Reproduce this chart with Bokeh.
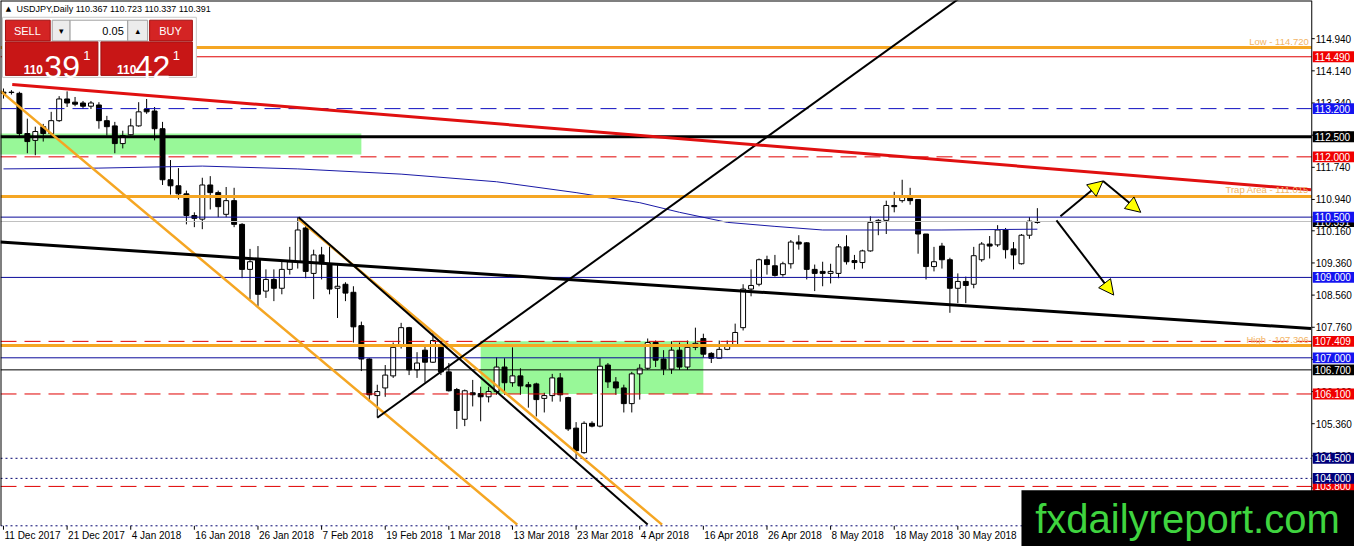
from bokeh.plotting import figure
from bokeh.models import ColumnDataSource, Arrow, NormalHead, Range1d
from bokeh.core.properties import value
from bokeh.embed import file_html
from bokeh.resources import INLINE

# USDJPY daily candles
opens = [113.61, 113.60, 113.58, 112.58, 112.41, 112.75, 112.58, 112.90, 113.44, 113.36,
         113.34, 113.26, 113.29, 112.90, 112.77, 112.33, 112.55, 112.77, 113.19, 113.14,
         112.70, 111.43, 111.28, 111.08, 110.54, 110.45, 111.30, 111.11, 110.57, 110.91,
         110.32, 109.20, 109.44, 108.66, 108.95, 108.73, 109.20, 109.39, 110.23, 109.10,
         109.56, 109.34, 108.73, 108.83, 108.63, 107.80, 106.97, 106.06, 106.25, 106.55,
         107.31, 107.75, 106.70, 107.19, 106.89, 107.26, 106.65, 106.21, 105.47, 106.13,
         106.11, 106.03, 106.16, 106.77, 106.38, 106.55, 106.33, 106.35, 105.99, 106.06,
         106.50, 106.01, 105.25, 104.64, 105.37, 105.30, 106.82, 106.40, 106.25, 105.86,
         106.60, 106.74, 107.38, 106.97, 106.72, 107.19, 106.77, 107.26, 107.48, 107.11,
         106.99, 107.21, 107.33, 107.75, 108.71, 108.83, 109.44, 109.29, 109.07, 109.34,
         109.88, 109.86, 109.20, 109.15, 109.10, 109.10, 109.76, 109.42, 109.37, 109.66,
         110.37, 110.42, 110.79, 110.91, 111.03, 110.94, 110.08, 109.27, 109.78, 109.44,
         108.73, 108.90, 108.83, 109.44, 109.83, 109.81, 110.18, 109.71, 109.34, 110.05,
         110.367]
highs = [113.70, 113.66, 113.62, 112.95, 112.75, 112.82, 113.12, 113.51, 113.63, 113.49,
         113.39, 113.39, 113.36, 113.02, 112.87, 112.65, 112.95, 113.36, 113.44, 113.24,
         112.87, 111.92, 111.72, 111.16, 110.62, 111.48, 111.52, 111.16, 111.25, 111.23,
         110.35, 109.71, 109.78, 109.20, 109.20, 109.39, 109.76, 110.50, 110.30, 109.69,
         109.76, 109.81, 109.34, 108.88, 108.78, 107.90, 106.99, 106.33, 106.82, 107.38,
         107.87, 107.77, 107.14, 107.31, 107.63, 107.36, 106.87, 106.25, 106.21, 106.45,
         106.28, 106.28, 107.01, 106.99, 107.26, 106.74, 106.40, 106.38, 106.13, 106.60,
         106.62, 106.03, 105.40, 105.42, 105.42, 106.99, 106.87, 106.52, 106.33, 106.65,
         106.84, 107.48, 107.43, 107.19, 107.41, 107.38, 107.43, 107.75, 107.60, 107.14,
         107.43, 107.43, 107.85, 108.83, 109.20, 109.47, 109.54, 109.56, 109.39, 109.93,
         110.05, 109.88, 109.32, 109.39, 109.34, 109.83, 110.05, 109.56, 109.69, 110.52,
         110.45, 110.91, 111.13, 111.43, 111.23, 110.94, 110.08, 109.76, 109.86, 109.49,
         109.10, 109.02, 109.76, 109.88, 110.03, 110.30, 110.23, 109.88, 110.08, 110.50,
         110.723]
lows = [113.45, 113.55, 112.50, 112.09, 112.04, 112.38, 112.50, 112.87, 113.24, 113.26,
        113.19, 113.19, 112.70, 112.53, 112.09, 112.21, 112.53, 112.75, 113.07, 112.41,
        111.30, 111.06, 110.94, 110.32, 110.25, 110.20, 110.69, 110.50, 110.50, 110.25,
        108.98, 108.46, 108.29, 108.49, 108.41, 108.58, 109.07, 109.22, 108.98, 108.46,
        108.95, 108.58, 107.99, 108.41, 107.38, 106.67, 105.91, 105.52, 106.03, 106.50,
        107.23, 106.57, 106.50, 106.38, 106.87, 106.57, 106.16, 105.23, 105.30, 105.79,
        105.42, 105.89, 106.08, 106.08, 106.28, 106.08, 105.76, 105.54, 105.64, 105.91,
        105.91, 105.18, 104.49, 104.61, 105.27, 105.27, 106.25, 106.08, 105.64, 105.64,
        105.96, 106.70, 106.77, 106.57, 106.60, 106.70, 106.70, 107.19, 107.01, 106.87,
        106.99, 107.19, 107.28, 107.68, 108.53, 108.78, 109.07, 109.02, 109.02, 109.22,
        109.69, 108.95, 108.66, 108.78, 108.85, 108.98, 109.32, 109.20, 109.22, 109.64,
        110.05, 110.08, 110.62, 110.86, 110.81, 109.59, 108.95, 109.15, 109.22, 108.12,
        108.36, 108.36, 108.73, 109.39, 109.47, 109.76, 109.47, 109.20, 109.32, 109.96,
        110.337]
closes = [113.58, 113.61, 112.58, 112.38, 112.63, 112.58, 112.90, 113.44, 113.34, 113.31,
          113.26, 113.34, 112.90, 112.75, 112.33, 112.53, 112.77, 113.12, 113.12, 112.70,
          111.43, 111.28, 111.08, 110.54, 110.47, 111.30, 111.11, 110.76, 110.91, 110.32,
          109.20, 109.39, 108.58, 108.95, 108.73, 109.20, 109.39, 110.18, 109.15, 109.56,
          109.34, 108.71, 108.78, 108.61, 107.77, 106.97, 106.08, 106.16, 106.57, 107.26,
          107.75, 106.70, 106.87, 106.89, 107.43, 106.65, 106.18, 105.69, 106.18, 106.08,
          106.03, 106.16, 106.77, 106.38, 106.55, 106.30, 106.28, 105.96, 106.06, 106.50,
          106.08, 105.23, 104.69, 105.37, 105.30, 106.79, 106.40, 106.25, 105.86, 106.60,
          106.74, 107.38, 106.94, 106.72, 107.19, 106.77, 107.26, 107.36, 107.09, 106.99,
          107.21, 107.33, 107.63, 108.71, 108.80, 109.44, 109.32, 109.05, 109.34, 109.88,
          109.83, 109.20, 109.10, 109.10, 109.15, 109.76, 109.39, 109.37, 109.66, 110.37,
          110.42, 110.79, 110.76, 111.03, 110.91, 110.08, 109.27, 109.39, 109.44, 108.73,
          108.90, 108.80, 109.54, 109.83, 109.78, 110.18, 109.69, 109.56, 110.05, 110.40,
          110.391]

date_ticks = list(range(0, 121, 8))
date_labels = ["11 Dec 2017", "21 Dec 2017", "4 Jan 2018", "16 Jan 2018", "26 Jan 2018",
               "7 Feb 2018", "19 Feb 2018", "1 Mar 2018", "13 Mar 2018", "23 Mar 2018",
               "4 Apr 2018", "16 Apr 2018", "26 Apr 2018", "8 May 2018", "18 May 2018",
               "30 May 2018"]
price_ticks = [114.94, 114.14, 113.34, 112.54, 111.74, 110.94, 110.16, 109.36,
               108.56, 107.76, 106.96, 106.16, 105.36, 104.56, 103.76]

# moving average (blue curve)
ma_bar = [0, 12, 25, 37, 50, 62, 72, 80, 85, 91, 97, 103, 118, 130]
ma_val = [111.70, 111.72, 111.77, 111.70, 111.57, 111.38, 111.11, 110.86, 110.62,
          110.37, 110.27, 110.18, 110.18, 110.20]

# horizontal levels
low_level = 114.720
trap_level = 111.015
high_level = 107.306
red_solid = [114.490]
red_dashed = [112.000, 107.409, 106.100, 103.800]
blue_dashed = [113.200]
navy_solid = [110.500, 109.000, 107.000]
black_thick = [112.500]
black_thin = [106.700]
navy_dotted = [104.500, 104.000]
bid = 110.391

tag_prices = [114.490, 113.200, 112.500, 112.000, 110.391, 110.500, 109.000, 107.409,
              107.000, 106.700, 106.100, 103.800, 104.500, 104.000]
tag_colors = ["#f00000", "#1414f0", "#000000", "#f00000", "#000000", "#1414f0", "#1414f0",
              "#f00000", "#1414f0", "#000000", "#f00000", "#f00000", "#00007a", "#00007a"]

# demand / supply zones
zone_left = [-1.0, 60.0]
zone_right = [45.0, 88.0]
zone_top = [112.58, 107.409]
zone_bottom = [112.06, 106.10]

# trend lines (bar index, price)
red_trend_x, red_trend_y = [1.1, 164.4], [113.80, 111.18]
black_trend_x, black_trend_y = [-0.4, 164.4], [109.88, 107.73]
rise_x, rise_y = [47.0, 125.0], [105.51, 116.63]
fall_x, fall_y = [37.1, 81.0], [110.50, 102.85]
orange_a_x, orange_a_y = [-0.4, 64.6], [113.64, 102.85]
orange_b_x, orange_b_y = [37.1, 82.8], [110.45, 102.85]

# scenario arrows
arrow_x0 = [132.9, 138.25, 132.4]
arrow_y0 = [110.52, 111.40, 110.42]
arrow_x1 = [138.25, 143.0, 139.6]
arrow_y1 = [111.40, 110.62, 108.56]

# chart area in bar / price units; the price scale sits right of X1, dates below Y0
X0, X1 = -0.375, 164.5
Y0, Y1 = 102.82, 115.89
FONT = "Liberation Sans"


def fx(px):
    # screen x of the original 1362x554 window -> bar units
    return X0 + px * (X1 - X0) / 1319


def fy(py):
    # screen y of the original window -> price units
    return Y1 - py * (Y1 - Y0) / 533


XR, YB = fx(1362), fy(554)

p = figure(width=1354, height=546, x_range=Range1d(X0, XR), y_range=Range1d(YB, Y1),
           output_backend="svg", toolbar_location=None, tools="",
           min_border_left=0, min_border_top=0, min_border_right=0, min_border_bottom=0,
           background_fill_color="white", border_fill_color="white")
p.axis.visible = False
p.grid.visible = False
p.outline_line_color = None

# zones
p.quad(left=zone_left, right=zone_right, top=zone_top, bottom=zone_bottom,
       fill_color="#98f898", line_color=None)

# candles
bars = list(range(len(opens)))
src = ColumnDataSource(dict(
    x=bars, high=highs, low=lows,
    top=[max(o, c) for o, c in zip(opens, closes)],
    bottom=[min(o, c) for o, c in zip(opens, closes)],
    fill=["white" if c >= o else "black" for o, c in zip(opens, closes)]))
p.segment("x", "high", "x", "low", source=src, line_color="black", line_width=1)
p.vbar(x="x", top="top", bottom="bottom", width=0.62, fill_color="fill",
       line_color="black", line_width=1, source=src)

# moving average
p.line(ma_bar, ma_val, line_color="#1a1aa6", line_width=1)


def level(ys, **kw):
    p.segment(x0=[X0] * len(ys), y0=ys, x1=[X1] * len(ys), y1=ys, **kw)


level([bid], line_color="#c0c0c0", line_width=1)
level([low_level, trap_level, high_level], line_color="#f5a623", line_width=3)
level(red_solid, line_color="#e00000", line_width=1)
level(red_dashed, line_color="#e00000", line_width=1, line_dash="16 8")
level(blue_dashed, line_color="#1010c0", line_width=1, line_dash="16 8")
level(navy_solid, line_color="#0a0a9a", line_width=1)
level(black_thick, line_color="black", line_width=3)
level(black_thin, line_color="black", line_width=1)
level(navy_dotted, line_color="#00006e", line_width=1, line_dash="2 3")
level([Y0], line_color="#00006e", line_width=1, line_dash="2 3")

# trend lines
p.line(orange_a_x, orange_a_y, line_color="#f5a623", line_width=2.5)
p.line(orange_b_x, orange_b_y, line_color="#f5a623", line_width=2.5)
p.line(fall_x, fall_y, line_color="black", line_width=2)
p.line(rise_x, rise_y, line_color="black", line_width=2)
p.line(black_trend_x, black_trend_y, line_color="black", line_width=3)
p.line(red_trend_x, red_trend_y, line_color="#e01010", line_width=3)

# orange level captions
cap_levels = [low_level, trap_level, high_level]
cap_names = ["Low", "Trap Area", "High"]
p.text(x=[X1] * 3, y=cap_levels, text=[f"{n} - {v:.3f}" for n, v in zip(cap_names, cap_levels)],
       x_offset=-3, y_offset=-1, text_align="right", text_baseline="bottom",
       text_color="#f2b566", text_font=value(FONT), text_font_size=value("9.5px"))

# frame borders (top, left)
p.segment(x0=[X0, X0], y0=[Y1, Y0], x1=[X1, X0], y1=[Y1, Y1], line_color="black", line_width=2)

# price scale
n = len(price_ticks)
p.segment(x0=[X1], y0=[Y0], x1=[X1], y1=[Y1], line_color="black", line_width=1)
p.segment(x0=[X1] * n, y0=price_ticks, x1=[fx(1322)] * n, y1=price_ticks, line_color="black")
p.text(x=[X1] * n, y=price_ticks, text=[f"{v:.3f}" for v in price_ticks], x_offset=4,
       text_align="left", text_baseline="middle", text_color="black",
       text_font=value(FONT), text_font_size=value("10px"))

# price tags, each box with its own text so later tags cover earlier ones
th = 5.5 * (Y1 - Y0) / 533
for price, col in zip(tag_prices, tag_colors):
    p.quad(left=[fx(1320)], right=[XR], top=[price + th], bottom=[price - th],
           fill_color=col, line_color=None)
    p.text(x=[fx(1320)], y=[price], text=[f"{price:.3f}"], x_offset=2,
           text_align="left", text_baseline="middle", text_color="white",
           text_font=value(FONT), text_font_size=value("10px"))

# date scale
m = len(date_ticks)
p.segment(x0=date_ticks, y0=[Y0] * m, x1=date_ticks, y1=[fy(537)] * m, line_color="black")
p.text(x=date_ticks, y=[Y0] * m, text=date_labels, x_offset=1, y_offset=4,
       text_align="left", text_baseline="top", text_color="black",
       text_font=value(FONT), text_font_size=value("10px"))

# arrows
p.add_layout(Arrow(end=NormalHead(size=15, fill_color="#ffff00", line_color="black",
                                  line_width=1),
                   x_start="x0", y_start="y0", x_end="x1", y_end="y1",
                   line_color="black", line_width=2,
                   source=ColumnDataSource(dict(x0=arrow_x0, y0=arrow_y0,
                                                x1=arrow_x1, y1=arrow_y1))))

# trading panel
boxes = [((2, 17, 197, 78), "white", "#c8c8c8"),
         ((5, 20, 50, 41), "#d42424", "#a01010"),
         ((52, 20, 70, 41), "#ececec", "#a0a0a0"),
         ((70, 20, 128, 41), "white", "#a0a0a0"),
         ((128, 20, 148, 41), "#ececec", "#a0a0a0"),
         ((150, 20, 193, 41), "#d42424", "#a01010"),
         ((5, 42, 98, 76), "#c81616", "#a01010"),
         ((101, 42, 193, 76), "#c81616", "#a01010")]
for (l, t, r, b), fc, lc in boxes:
    p.quad(left=[fx(l)], right=[fx(r)], top=[fy(t)], bottom=[fy(b)],
           fill_color=fc, line_color=lc)


def txt(px, py, s, size, color="white", align="center", base="middle",
        style="normal", font=FONT):
    p.text(x=[fx(px)], y=[fy(py)], text=[s], text_font=value(font),
           text_font_size=value(size), text_color=color, text_align=align,
           text_baseline=base, text_font_style=style)


txt(27, 31, "SELL", "11px")
txt(171, 31, "BUY", "11px")
txt(61, 31, "\u25BE", "9px", color="black", font="DejaVu Sans")
txt(138, 31, "\u25B4", "9px", color="black", font="DejaVu Sans")
txt(124, 31, "0.05", "11px", color="black", align="right")
txt(33, 70, "110", "12px", base="alphabetic", style="bold")
txt(62, 67, "39", "32px", base="alphabetic")
txt(87, 56, "1", "13px", base="alphabetic")
txt(127, 70, "110", "12px", base="alphabetic", style="bold")
txt(153, 67, "42", "32px", base="alphabetic")
txt(177, 56, "1", "13px", base="alphabetic")
txt(8, 9, "\u25B2", "7px", color="black", font="DejaVu Sans")
txt(16, 9, f"USDJPY,Daily  {opens[-1]:.3f} {highs[-1]:.3f} {lows[-1]:.3f} {closes[-1]:.3f}",
    "9px", color="black", align="left")

# watermark
p.quad(left=[fx(1027)], right=[XR], top=[fy(497)], bottom=[YB], fill_color="black",
       line_color=None)
txt(1194, 526, "fxdailyreport.com", "40px", color="#3fd43f")

open("out.html", "w").write(file_html(p, INLINE))
